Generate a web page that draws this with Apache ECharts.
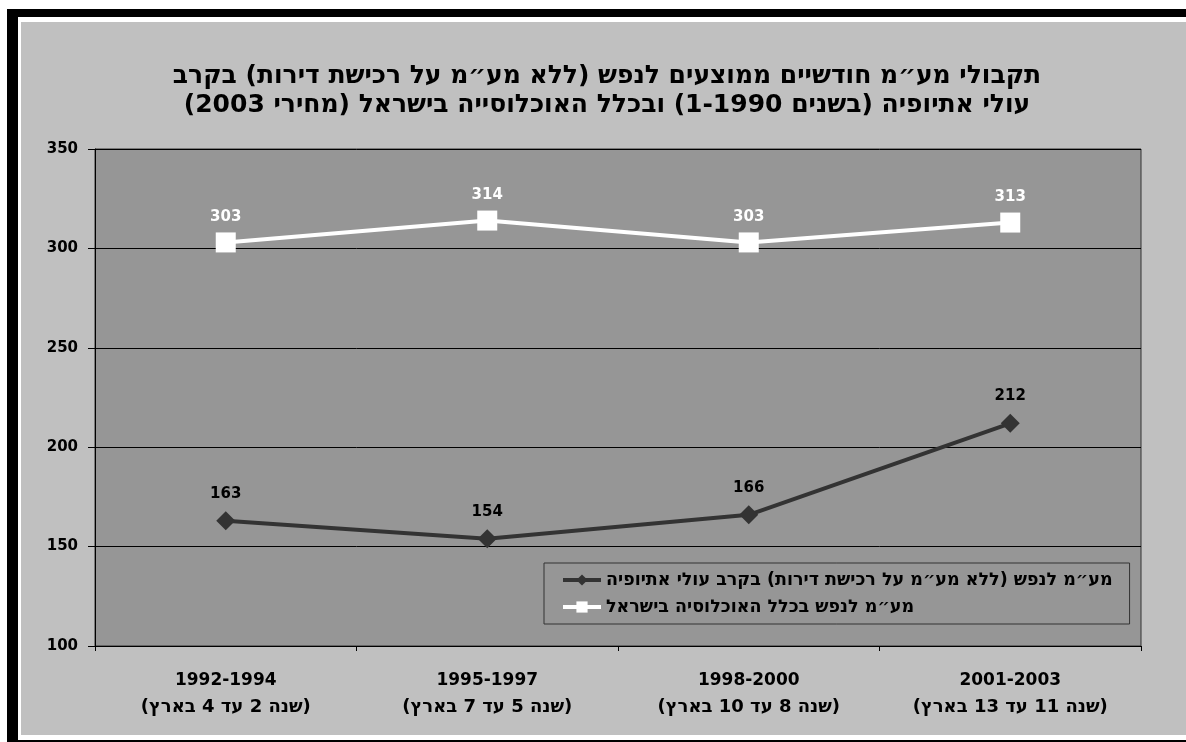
<!DOCTYPE html>
<html>
<head>
<meta charset="utf-8">
<script src="https://cdn.jsdelivr.net/npm/echarts@6/dist/echarts.min.js"></script>
<style>
  html, body { margin: 0; padding: 0; background: #ffffff; }
  #chart { width: 1186px; height: 742px; }
</style>
</head>
<body>
<div id="chart"></div>
<script>
// ---- data ----
const titleLines = [
  'תקבולי מע״מ חודשיים ממוצעים לנפש (ללא מע״מ על רכישת דירות) בקרב',
  'עולי אתיופיה (בשנים 1-1990) ובכלל האוכלוסייה בישראל (מחירי 2003)'
];
const periods = ['1992-1994', '1995-1997', '1998-2000', '2001-2003'];
const periodNotes = ['(שנה 2 עד 4 בארץ)', '(שנה 5 עד 7 בארץ)', '(שנה 8 עד 10 בארץ)', '(שנה 11 עד 13 בארץ)'];
const seriesNames = [
  'מע״מ לנפש (ללא מע״מ על רכישת דירות) בקרב עולי אתיופיה',
  'מע״מ לנפש בכלל האוכלוסיה בישראל'
];
const ethiopiaValues = [163, 154, 166, 212];
const israelValues = [303, 314, 303, 313];
const yTicks = { min: 100, max: 350, interval: 50 };

// The reference shows the words of each line left-to-right.
// Rich-text tokens are laid out right-to-left for Hebrew lines, so hand them over in reverse
// token order (parentheses swapped, as they get mirrored) to obtain the reference's visual order.
const swapParen = t => t.replace(/[()]/g, c => (c === '(' ? ')' : '('));
const visualLine = (line, style) => {
  const toks = line.match(/[\u0590-\u05FF]+|\d+(?:-\d+)*|\s+|./g) || [];
  return toks.reverse().map(t => '{' + style + '|' + swapParen(t) + '}').join('');
};

const FONT = '"DejaVu Sans", "Liberation Sans", sans-serif';
const rs = (size, lh) => ({ fontFamily: FONT, fontWeight: 'bold', fontSize: size, lineHeight: lh, color: '#000000' });

const chart = echarts.init(document.getElementById('chart'), null, { renderer: 'canvas' });

const categories = periods.map((p, i) => p + '\n' + periodNotes[i]);

chart.setOption({
  backgroundColor: '#ffffff',
  animation: false,
  graphic: [
    { type: 'rect', z: -10, shape: { x: 21, y: 22, width: 1165, height: 713 }, style: { fill: '#c0c0c0' } },
    { type: 'rect', z: -10, shape: { x: 7, y: 9, width: 1179, height: 8 }, style: { fill: '#000000' } },
    { type: 'rect', z: -10, shape: { x: 7, y: 9, width: 11, height: 733 }, style: { fill: '#000000' } },
    { type: 'rect', z: -10, shape: { x: 7, y: 740, width: 1179, height: 2 }, style: { fill: '#000000' } }
  ],
  title: {
    text: titleLines.map(l => visualLine(l, 't')).join('\n'),
    left: 607,
    top: 62,
    padding: 0,
    textAlign: 'center',
    textStyle: {
      fontFamily: FONT,
      fontWeight: 'bold',
      fontSize: 25,
      lineHeight: 29,
      color: '#000000',
      rich: { t: rs(25, 29) }
    }
  },
  legend: {
    orient: 'vertical',
    left: 544,
    top: 563,
    padding: [8, 17, 8, 17],
    itemGap: 9,
    itemWidth: 38,
    itemHeight: 14,
    backgroundColor: '#969696',
    borderColor: '#333333',
    borderWidth: 1,
    borderRadius: 0,
    lineStyle: { width: 4 },
    data: seriesNames,
    formatter: name => visualLine(name, 't'),
    textStyle: {
      fontFamily: FONT,
      fontWeight: 'bold',
      fontSize: 17.5,
      color: '#000000',
      rich: { t: rs(17.5, 20) }
    }
  },
  grid: {
    left: 95,
    right: 45,
    top: 149,
    bottom: 96,
    show: true,
    backgroundColor: '#969696',
    borderColor: '#333333',
    borderWidth: 1
  },
  xAxis: {
    type: 'category',
    data: categories,
    boundaryGap: true,
    axisLine: { show: true, lineStyle: { color: '#000000', width: 1 } },
    axisTick: { show: true, length: 5, alignWithLabel: false, lineStyle: { color: '#000000' } },
    axisLabel: {
      margin: 21,
      fontFamily: FONT,
      fontWeight: 'bold',
      fontSize: 17,
      lineHeight: 27,
      color: '#000000',
      interval: 0,
      formatter: v => {
        const parts = v.split('\n');
        return '{n|' + parts[0] + '}\n' + visualLine(parts[1], 't');
      },
      rich: { n: rs(17, 27), t: rs(18, 27) }
    },
    splitLine: { show: false }
  },
  yAxis: {
    type: 'value',
    min: yTicks.min,
    max: yTicks.max,
    interval: yTicks.interval,
    axisLine: { show: true, lineStyle: { color: '#000000', width: 1 } },
    axisTick: { show: true, length: 7, lineStyle: { color: '#000000' } },
    axisLabel: {
      margin: 17,
      fontFamily: FONT,
      fontWeight: 'bold',
      fontSize: 15,
      color: '#000000'
    },
    splitLine: { show: true, lineStyle: { color: '#000000', width: 1 } }
  },
  series: [
    {
      name: seriesNames[0],
      type: 'line',
      data: ethiopiaValues,
      symbol: 'diamond',
      symbolSize: 19,
      lineStyle: { color: '#333333', width: 4 },
      itemStyle: { color: '#333333' },
      label: {
        show: true,
        position: 'top',
        distance: 10,
        fontFamily: FONT,
        fontWeight: 'bold',
        fontSize: 15,
        color: '#000000'
      },
      z: 3
    },
    {
      name: seriesNames[1],
      type: 'line',
      data: israelValues,
      symbol: 'rect',
      symbolSize: 20,
      lineStyle: { color: '#ffffff', width: 4 },
      itemStyle: { color: '#ffffff' },
      label: {
        show: true,
        position: 'top',
        distance: 8,
        fontFamily: FONT,
        fontWeight: 'bold',
        fontSize: 15,
        color: '#ffffff'
      },
      z: 3
    }
  ]
});
</script>
</body>
</html>
